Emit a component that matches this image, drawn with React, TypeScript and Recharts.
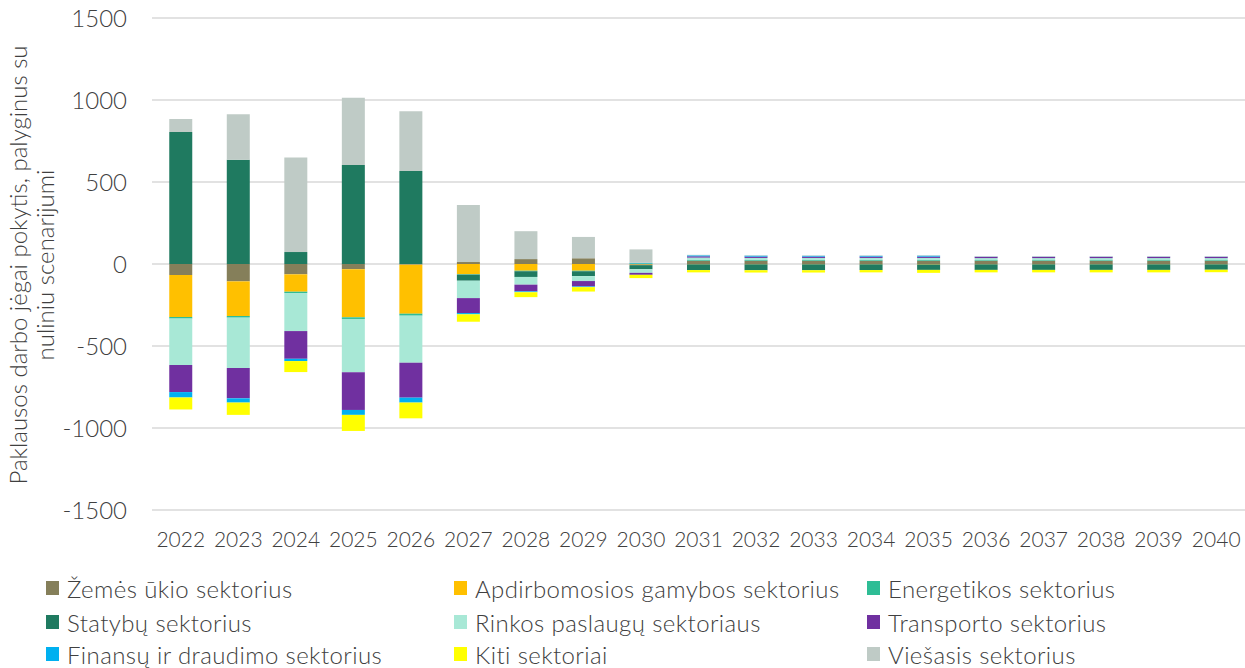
import { BarChart, Bar, XAxis, YAxis, CartesianGrid } from 'recharts';

const years = [
  '2022', '2023', '2024', '2025', '2026', '2027', '2028', '2029', '2030', '2031',
  '2032', '2033', '2034', '2035', '2036', '2037', '2038', '2039', '2040',
];

// sector values, one per year
const zemes = [-67, -106, -63, -32, -4, 12, 30, 35, -4, 20, 20, 20, 20, 20, 20, 20, 20, 20, 20];
const apdirb = [-256, -211, -106, -293, -299, -62, -41, -41, -3, -2, -2, -2, -2, -3, -2, -2, -2, -2, -2];
const energ = [-10, -10, -8, -10, -12, -3, -3, -3, 4, 5, 5, 5, 5, 5, 4, 4, 4, 4, 4];
const statybu = [805, 636, 73, 604, 567, -37, -35, -30, -25, -35, -36, -36, -35, -33, -34, -34, -34, -34, -33];
const rinkos = [-283, -307, -232, -325, -287, -106, -47, -30, -22, 14, 12, 12, 12, 12, 12, 12, 12, 12, 12];
const transp = [-165, -185, -169, -230, -213, -91, -41, -33, -12, 8, 8, 8, 8, 8, 8, 8, 8, 8, 8];
const finansu = [-33, -26, -14, -30, -30, -8, -5, -4, 3, 6, 6, 5, 5, 6, 1, 1, 1, 1, 1];
const kiti = [-73, -75, -67, -98, -96, -45, -30, -27, -20, -14, -14, -14, -14, -18, -15, -15, -15, -15, -15];
const viesasis = [79, 277, 577, 409, 364, 348, 170, 130, 82, 3, 3, 3, 3, 3, 3, 3, 3, 3, 3];

const yTicks = [-1500, -1000, -500, 0, 500, 1000, 1500];

const yTitle = ['Paklausos darbo jėgai pokytis, palyginus su', 'nuliniu scenarijumi'];

const series = [
  { key: 'zemes', name: 'Žemės ūkio sektorius', color: '#857f5a', values: zemes },
  { key: 'apdirb', name: 'Apdirbomosios gamybos sektorius', color: '#ffc000', values: apdirb },
  { key: 'energ', name: 'Energetikos sektorius', color: '#2ebd95', values: energ },
  { key: 'statybu', name: 'Statybų sektorius', color: '#1f7a60', values: statybu },
  { key: 'rinkos', name: 'Rinkos paslaugų sektoriaus', color: '#a8e8d6', values: rinkos },
  { key: 'transp', name: 'Transporto sektorius', color: '#7030a0', values: transp },
  { key: 'finansu', name: 'Finansų ir draudimo sektorius', color: '#00b0f0', values: finansu },
  { key: 'kiti', name: 'Kiti sektoriai', color: '#ffff00', values: kiti },
  { key: 'viesasis', name: 'Viešasis sektorius', color: '#bfcbc6', values: viesasis },
];

const data = years.map((year, i) => {
  const row: Record<string, string | number> = { year };
  series.forEach((s) => {
    row[s.key] = s.values[i];
  });
  return row;
});

const FONT = 'Lato, "Open Sans", sans-serif';
const TEXT = '#404040';

const legendCols = [46, 454, 867];
const legendRows = [588, 622, 654];

const App = () => {
  return (
    <div style={{ position: 'absolute', left: 0, top: 0, width: 1245, height: 668, background: '#fff', overflow: 'hidden' }}>
      <BarChart
        width={1245}
        height={668}
        data={data}
        stackOffset='sign'
        barCategoryGap='30%'
        margin={{ top: 18, right: 0, left: 0, bottom: 118 }}
      >
        <CartesianGrid vertical={false} stroke='#d9d9d9' strokeWidth={1.5} />
        <XAxis
          dataKey='year'
          height={40}
          axisLine={false}
          tickLine={false}
          tickMargin={16}
          interval={0}
          tick={{ fill: TEXT, fontSize: 21, fontFamily: FONT, fontWeight: 300 }}
        />
        <YAxis
          width={152}
          domain={[-1500, 1500]}
          ticks={yTicks}
          axisLine={false}
          tickLine={false}
          tickMargin={19}
          tick={{ fill: TEXT, fontSize: 24, fontFamily: FONT, fontWeight: 300 }}
        />
        {series.map((s) => (
          <Bar key={s.key} dataKey={s.key} name={s.name} stackId='a' fill={s.color} isAnimationActive={false} />
        ))}
      </BarChart>
      <svg
        width={70}
        height={520}
        style={{ position: 'absolute', left: 0, top: 0 }}
        fontFamily={FONT}
        fontSize={24}
        fontWeight={300}
        fill={TEXT}
      >
        <text transform='translate(27,265) rotate(-90)' textAnchor='middle'>
          {yTitle[0]}
        </text>
        <text transform='translate(54,265) rotate(-90)' textAnchor='middle'>
          {yTitle[1]}
        </text>
      </svg>
      {series.map((s, i) => (
        <div
          key={s.key}
          style={{
            position: 'absolute',
            left: legendCols[i % 3],
            top: legendRows[Math.floor(i / 3)] - 15,
            height: 30,
            display: 'flex',
            alignItems: 'center',
            fontFamily: FONT,
            fontWeight: 300,
            fontSize: 24,
            letterSpacing: 0.4,
            color: TEXT,
            whiteSpace: 'nowrap',
          }}
        >
          <span style={{ display: 'inline-block', width: 13, height: 14, background: s.color, marginRight: 8 }} />
          {s.name}
        </div>
      ))}
    </div>
  );
};

export default App;
